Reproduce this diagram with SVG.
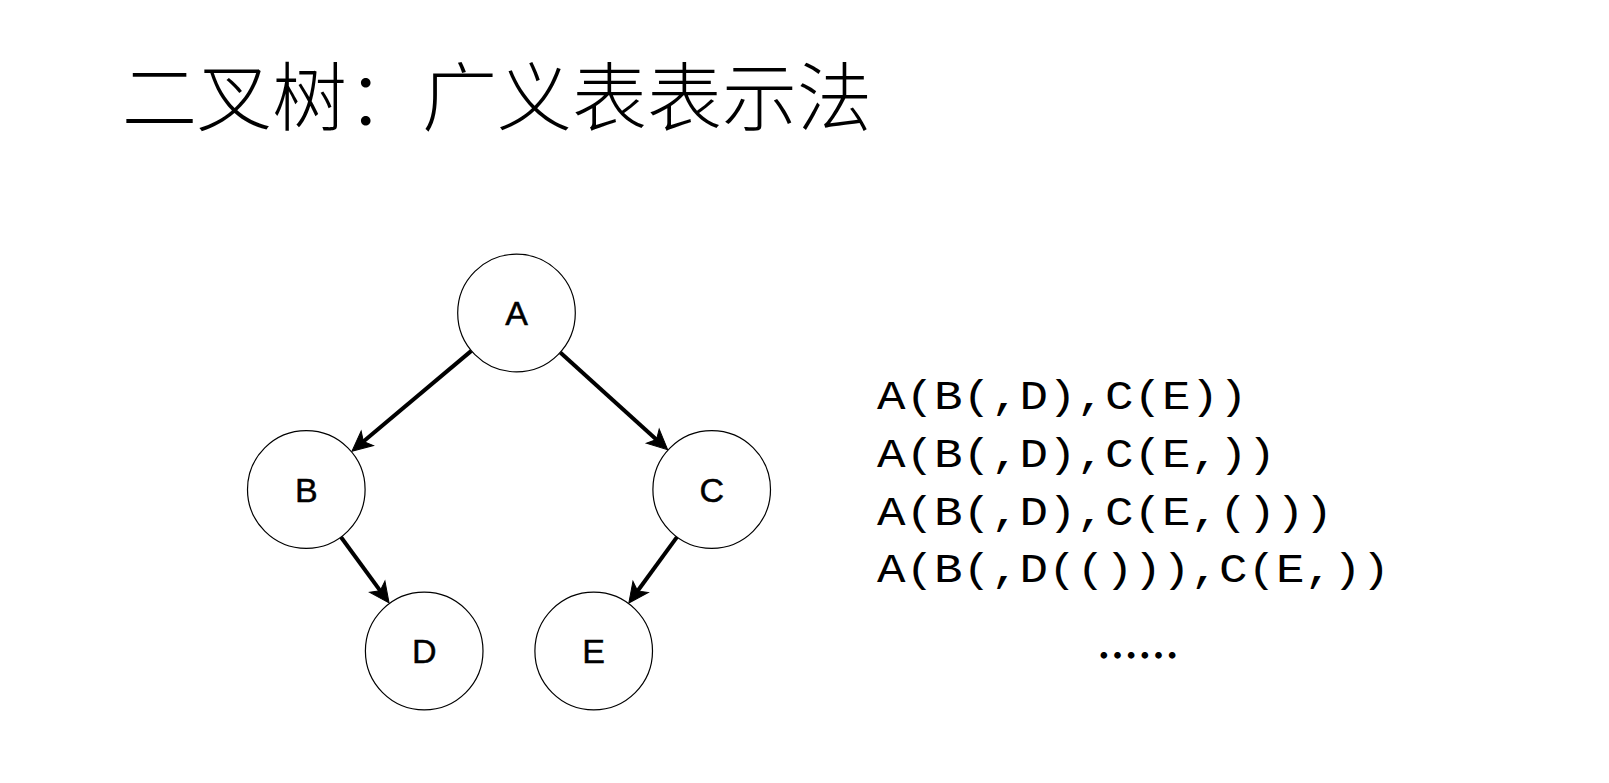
<svg xmlns="http://www.w3.org/2000/svg" width="1609" height="783" viewBox="0 0 1609 783">
  <style>
    .title { font-family: "Noto Sans CJK SC", "Noto Sans CJK JP", sans-serif; font-size: 75px; font-weight: 300; fill: #000; }
    .node circle { fill: #fff; stroke: #000; stroke-width: 1.2; }
    .node text { font-family: "Liberation Sans", Arial, sans-serif; font-size: 34px; fill: #000; text-anchor: middle; stroke: #000; stroke-width: 0.5; }
    .edge { stroke: #000; stroke-width: 4; fill: none; }
    .expr { font-family: "Liberation Mono", "Courier New", monospace; font-size: 47.5px; fill: #000; }
    .dots { font-family: "Noto Sans CJK SC", sans-serif; font-size: 41px; font-weight: bold; fill: #000; }
  </style>
  <defs>
    <marker id="arr" markerUnits="userSpaceOnUse" markerWidth="40" markerHeight="30" viewBox="-20 -15 40 30" refX="0" refY="0" orient="auto" overflow="visible">
      <path d="M13,0 L-7,-9.5 L-2,0 L-7,9.5 Z" fill="#000" stroke="#000" stroke-width="1"/>
    </marker>
  </defs>
  <rect width="1609" height="783" fill="#fff"/>

  <text class="title" x="122" y="125">二叉树：广义表表示法</text>

  <g id="connectors">
    <line class="edge" marker-end="url(#arr)" x1="471.3" y1="350.9" x2="361.9" y2="442.8"/>
    <line class="edge" marker-end="url(#arr)" x1="560.3" y1="352.6" x2="658.0" y2="440.9"/>
    <line class="edge" marker-end="url(#arr)" x1="341.1" y1="537.2" x2="381.4" y2="592.4"/>
    <line class="edge" marker-end="url(#arr)" x1="676.9" y1="537.1" x2="636.5" y2="592.5"/>
  </g>

  <g id="node-A" class="node">
    <circle cx="516.5" cy="313" r="58.8"/>
    <text x="516.5" y="325.2">A</text>
  </g>
  <g id="node-B" class="node">
    <circle cx="306.3" cy="489.5" r="58.8"/>
    <text x="306.3" y="501.7">B</text>
  </g>
  <g id="node-C" class="node">
    <circle cx="711.7" cy="489.5" r="58.8"/>
    <text x="711.7" y="501.7">C</text>
  </g>
  <g id="node-D" class="node">
    <circle cx="424.2" cy="651" r="58.8"/>
    <text x="424.2" y="663.2">D</text>
  </g>
  <g id="node-E" class="node">
    <circle cx="593.7" cy="651" r="58.8"/>
    <text x="593.7" y="663.2">E</text>
  </g>

  <g id="expressions">
    <text class="expr" transform="translate(877,409) scale(1,0.84)" x="0" y="0">A(B(,D),C(E))</text>
    <text class="expr" transform="translate(877,467) scale(1,0.84)" x="0" y="0">A(B(,D),C(E,))</text>
    <text class="expr" transform="translate(877,524.5) scale(1,0.84)" x="0" y="0">A(B(,D),C(E,()))</text>
    <text class="expr" transform="translate(877,582) scale(1,0.84)" x="0" y="0">A(B(,D(())),C(E,))</text>
    <text class="dots" x="1097" y="671">……</text>
  </g>
</svg>
